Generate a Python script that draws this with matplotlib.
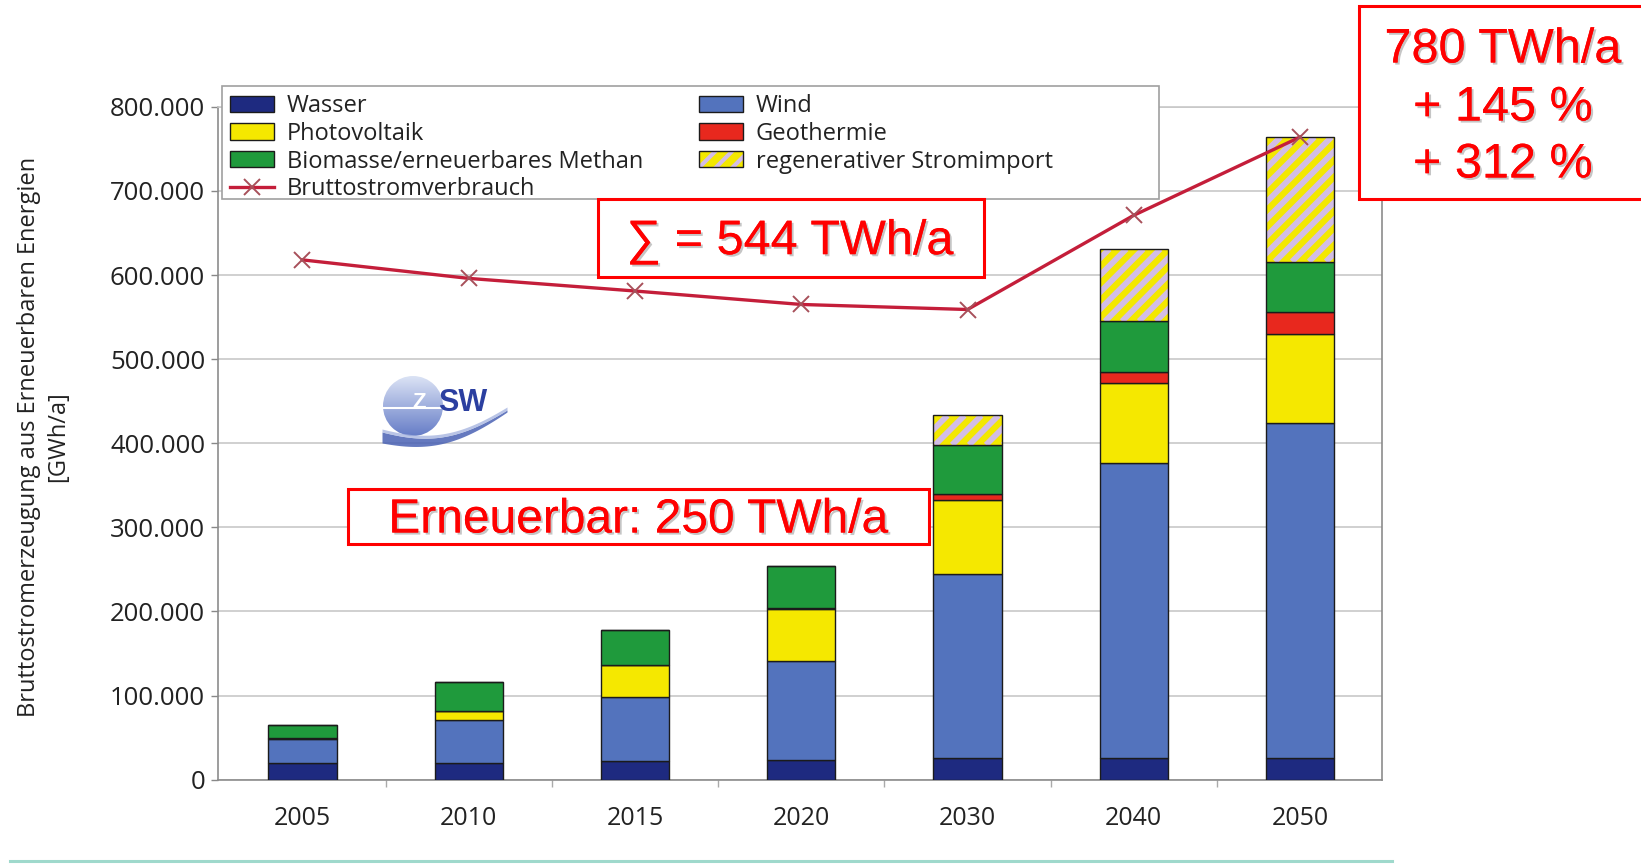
import numpy as np
import matplotlib
matplotlib.use("Agg")
import matplotlib.pyplot as plt
from matplotlib.patches import Rectangle, Patch, Circle
from matplotlib.lines import Line2D
from matplotlib.ticker import FuncFormatter, FixedLocator
from matplotlib.transforms import IdentityTransform
import matplotlib.patheffects as pe

# ---------------- data (GWh/a) ----------------
years = ["2005", "2010", "2015", "2020", "2030", "2040", "2050"]
wasser = [20000, 20000, 22000, 24000, 26000, 26000, 26000]
wind = [28000, 51000, 76000, 117000, 219000, 351000, 398000]
photovoltaik = [1500, 11000, 38000, 62000, 88000, 95000, 106000]
geothermie = [0, 0, 0, 1000, 7000, 13000, 26000]
biomasse = [16000, 34000, 42000, 50000, 58000, 60000, 60000]
stromimport = [0, 0, 0, 0, 35000, 86000, 148000]
bruttostrom = [618000, 596000, 581000, 565000, 559000, 671000, 764000]
yticks = [0, 100000, 200000, 300000, 400000, 500000, 600000, 700000, 800000]

DPI = 100
plt.rcParams['hatch.linewidth'] = 3.0
FONT = ['Open Sans', 'DejaVu Sans']
RFONT = ['Liberation Sans', 'DejaVu Sans']

W, H = 1641, 864
fig = plt.figure(figsize=(W / DPI, H / DPI), dpi=DPI)
fig.patch.set_facecolor('white')


def fx(px):
    return px / W


def fy(py):
    return 1 - py / H


ax_l, ax_r, ax_t, ax_b = 217.7, 1381.5, 106.8, 779.7
ax = fig.add_axes([fx(ax_l), fy(ax_b), fx(ax_r - ax_l), (ax_b - ax_t) / H])

x = np.arange(len(years))
bw = 0.41
EDGE = '#1b1b1b'
c_wasser = '#1e2a80'
c_wind = '#5373bd'
c_pv = '#f5e800'
c_geo = '#e8281e'
c_bio = '#1f9a3c'
c_imp_face = '#f3e800'
c_imp_hatch = '#d2bde6'

ax.set_xlim(-0.51, len(years) - 1 + 0.49)
ax.set_ylim(0, 800000)

bottom = np.zeros(len(years))
segs = [(wasser, c_wasser), (wind, c_wind), (photovoltaik, c_pv),
        (geothermie, c_geo), (biomasse, c_bio)]
for vals, col in segs:
    v = np.array(vals, dtype=float)
    ax.bar(x, v, bw, bottom=bottom, color=col, edgecolor=EDGE, linewidth=1.0, zorder=3)
    bottom += v

imp = np.array(stromimport, dtype=float)
imp_bars = ax.bar(x, imp, bw, bottom=bottom, facecolor=c_imp_face, linewidth=0, zorder=3)
# diagonal stripes inside the import bars (45 deg in pixel space)
period = 17.0
for patch in imp_bars.patches:
    if patch.get_height() <= 0:
        continue
    bb = patch.get_window_extent()
    hh = bb.height
    for c in np.arange(np.floor((bb.x0 - hh) / period) * period, bb.x1 + period, period):
        ln = Line2D([c, c + hh], [bb.y0, bb.y1], transform=IdentityTransform(),
                    color=c_imp_hatch, lw=4.2, solid_capstyle='butt', zorder=3.2)
        ax.add_line(ln)
        ln.set_clip_path(patch)
ax.bar(x, imp, bw, bottom=bottom, fill=False, edgecolor=EDGE, linewidth=1.0, zorder=3.5)

line_col = '#c41e3a'
ax.plot(x, bruttostrom, color=line_col, lw=2.4, marker='x', markersize=12,
        markeredgecolor='#a8505a', markeredgewidth=1.4, zorder=5)

ax.set_xticks(x)
ax.set_xticklabels(years, fontfamily=FONT, fontsize=18, color='#222222')
ax.xaxis.set_minor_locator(FixedLocator(list(np.arange(len(years) - 1) + 0.5)))
ax.tick_params(axis='x', which='major', length=0, pad=19)
ax.tick_params(axis='x', which='minor', length=5, color='#aaaaaa', width=1)
ax.set_yticks(yticks)
ax.yaxis.set_major_formatter(FuncFormatter(lambda v, p: f"{int(v):,}".replace(',', '.')))
for lab in ax.get_yticklabels():
    lab.set_fontfamily(FONT)
ax.tick_params(axis='y', labelsize=18.5, labelcolor='#222222', length=5,
               width=1, color='#888888', pad=4)
ax.grid(axis='y', color='#c8c8c8', lw=1.2, zorder=0)
ax.set_axisbelow(True)
for s in ['left', 'bottom', 'right', 'top']:
    ax.spines[s].set_color('#8c8c8c')
    ax.spines[s].set_linewidth(1.2)
ax.spines['top'].set_color('#c8c8c8')

# legend frame
ax.add_patch(Rectangle((fx(222), fy(199)), fx(1159 - 222), (199 - 86) / H,
                       transform=fig.transFigure, facecolor='white',
                       edgecolor='#a0a0a0', lw=1.2, clip_on=False, zorder=6))

h_wasser = Patch(facecolor=c_wasser, edgecolor=EDGE, lw=1)
h_wind = Patch(facecolor=c_wind, edgecolor=EDGE, lw=1)
h_pv = Patch(facecolor=c_pv, edgecolor=EDGE, lw=1)
h_geo = Patch(facecolor=c_geo, edgecolor=EDGE, lw=1)
h_bio = Patch(facecolor=c_bio, edgecolor=EDGE, lw=1)
h_imp = (Patch(facecolor=c_imp_face, edgecolor=c_imp_hatch, hatch='//', lw=0),
         Patch(fill=False, edgecolor=EDGE, lw=1))
h_line = Line2D([], [], color=line_col, lw=2.4, marker='x', markersize=11,
                markeredgecolor='#a8505a', markeredgewidth=1.4)

leg_kw = dict(frameon=False, borderpad=0, borderaxespad=0, handlelength=1.85,
              handleheight=0.68, handletextpad=0.55, labelspacing=0.16,
              prop={'family': FONT, 'size': 17}, loc='upper left',
              bbox_transform=fig.transFigure)
leg1 = ax.legend([h_wasser, h_pv, h_bio, h_line],
                 ['Wasser', 'Photovoltaik', 'Biomasse/erneuerbares Methan',
                  'Bruttostromverbrauch'],
                 bbox_to_anchor=(fx(230), fy(94)), **leg_kw)
leg1.set_zorder(7)
for t in leg1.get_texts():
    t.set_color('#222222')
ax.add_artist(leg1)
leg2 = ax.legend([h_wind, h_geo, h_imp],
                 ['Wind', 'Geothermie', 'regenerativer Stromimport'],
                 bbox_to_anchor=(fx(699), fy(94)), **leg_kw)
leg2.set_zorder(7)
for t in leg2.get_texts():
    t.set_color('#222222')

# y label
fig.text(fx(43.5), fy(437), 'Bruttostromerzeugung aus Erneuerbaren Energien\n[GWh/a]',
         rotation=90, ha='center', va='center', multialignment='center',
         fontfamily=FONT, fontsize=17, color='#222222', linespacing=1.3)

# overlay for annotations and decorations (pixel coordinates)
ov = fig.add_axes([0, 0, 1, 1], zorder=10)
ov.set_xlim(0, W)
ov.set_ylim(H, 0)
ov.axis('off')
ov.patch.set_alpha(0)

red = '#ff0000'
shadow = [pe.withSimplePatchShadow(offset=(1.5, -1.5), shadow_rgbFace='#808080', alpha=0.45),
          pe.Normal()]


def red_box(x0, x1, y0, y1):
    ov.add_patch(Rectangle((x0, y0), x1 - x0, y1 - y0, fill=True, facecolor='white',
                           edgecolor=red, lw=2.2, clip_on=False))


RFS = 35
red_box(597.6, 983.8, 198.9, 277.4)
ov.text(790, 242, '∑ = 544 TWh/a', ha='center', va='center', color=red,
        fontsize=RFS, family=RFONT, path_effects=shadow)

red_box(347.5, 929.4, 488.8, 544.2)
ov.text(638, 520, 'Erneuerbar: 250 TWh/a', ha='center', va='center', color=red,
        fontsize=34.5, family=RFONT, path_effects=shadow)

red_box(1359, 1648, 6, 199)
for yy, s in [(50, '780 TWh/a'), (108, '+ 145 %'), (165, '+ 312 %')]:
    ov.text(1503, yy, s, ha='center', va='center', color=red, fontsize=RFS,
            family=RFONT, path_effects=shadow)

# logo
cx, cy, r = 413, 406, 30
gy, gx = np.mgrid[0:1:100j, 0:1:100j]
grad = np.zeros((100, 100, 4))
top = np.array([0.86, 0.89, 0.96])
bot = np.array([0.40, 0.49, 0.78])
for k in range(3):
    grad[..., k] = top[k] * (1 - gy) + bot[k] * gy
grad[..., 3] = 1
im = ov.imshow(grad, extent=(cx - r, cx + r, cy + r, cy - r), zorder=1)
circ = Circle((cx, cy), r, transform=ov.transData, facecolor='none', edgecolor='none')
ov.add_patch(circ)
im.set_clip_path(circ)
ov.plot([cx - r, cx + r], [cy + 2, cy + 2], color='white', lw=1.5, zorder=2)
ov.text(cx + 6, cy - 3, 'Z', ha='center', va='center', color='white', fontsize=16,
        fontweight='bold', family=RFONT, zorder=3)
ov.text(463, 403, 'SW', ha='center', va='center', color='#2b3fa0', fontsize=22,
        fontweight='bold', family=RFONT, zorder=3)
t = np.linspace(0, 1, 60)
wx = 382 + 125 * t
wy_top = 428 + 10 * np.sin(np.pi * t) - 22 * t * t + 4
wy_bot = wy_top + 9 * (1 - t) + 2
ov.fill_between(wx, wy_top, wy_bot, color='#4a62b4', alpha=0.85, lw=0, zorder=2)
ov.fill_between(wx, wy_top - 3, wy_top, color='#a8b6e0', alpha=0.8, lw=0, zorder=2)

# bottom teal line
ov.plot([10, 1392], [861, 861], color='#9fd9cc', lw=2.2, zorder=1)

fig.savefig('out.png', dpi=DPI)
